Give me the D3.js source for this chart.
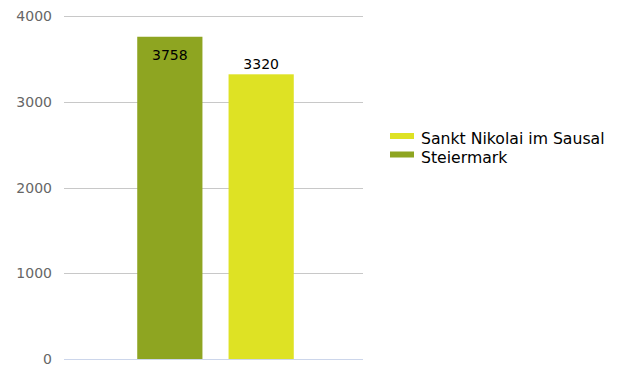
<!DOCTYPE html>
<html>
<head>
<meta charset="utf-8">
<script src="https://cdn.jsdelivr.net/npm/d3@7"></script>
<style>
  body { margin: 0; background: #fff; }
  text { font-family: "DejaVu Sans", sans-serif; }
</style>
</head>
<body>
<div id="chart"></div>
<script>
var series = ["Steiermark", "Sankt Nikolai im Sausal"];
var values = [3758, 3320];
var colors = ["#8ea521", "#dee224"];
var legendOrder = ["Sankt Nikolai im Sausal", "Steiermark"];
var yTicks = [0, 1000, 2000, 3000, 4000];

var width = 620, height = 367;
var plot = {left: 64, right: 363, top: 16, bottom: 359};

var svg = d3.select("#chart")
  .append("svg")
  .attr("width", width)
  .attr("height", height);

var y = d3.scaleLinear()
  .domain([0, 4000])
  .range([plot.bottom, plot.top]);

// bars sit slightly right of the plot centre
var x = d3.scaleBand()
  .domain(series)
  .range([plot.left + 2, plot.right + 2])
  .paddingInner(0.286)
  .paddingOuter(0.78);

// gridlines
svg.append("g")
  .selectAll("line")
  .data(yTicks)
  .enter()
  .append("line")
  .attr("x1", plot.left)
  .attr("x2", plot.right)
  .attr("y1", function(d) { return Math.round(y(d)) + 0.5; })
  .attr("y2", function(d) { return Math.round(y(d)) + 0.5; })
  .attr("stroke", function(d) { return d === 0 ? "#ccd6eb" : "#c8c8c8"; })
  .attr("stroke-width", 1);

// y labels
svg.append("g")
  .selectAll("text")
  .data(yTicks)
  .enter()
  .append("text")
  .attr("x", 52)
  .attr("y", function(d) { return y(d) + 5; })
  .attr("text-anchor", "end")
  .attr("fill", "#666")
  .style("font-size", "14px")
  .text(function(d) { return d; });

// bars
svg.append("g")
  .selectAll("rect")
  .data(series)
  .enter()
  .append("rect")
  .attr("x", function(d) { return x(d); })
  .attr("y", function(d, i) { return y(values[i]); })
  .attr("width", x.bandwidth())
  .attr("height", function(d, i) { return plot.bottom - y(values[i]); })
  .attr("fill", function(d, i) { return colors[i]; });

// value labels: first inside the bar, second above
svg.append("g")
  .selectAll("text")
  .data(series)
  .enter()
  .append("text")
  .attr("x", function(d) { return x(d) + x.bandwidth() / 2; })
  .attr("y", function(d, i) { return i === 0 ? y(values[i]) + 23 : y(values[i]) - 5; })
  .attr("text-anchor", "middle")
  .attr("fill", "#000")
  .style("font-size", "14px")
  .text(function(d, i) { return values[i]; });

// legend
var legend = svg.append("g")
  .selectAll("g")
  .data(legendOrder)
  .enter()
  .append("g")
  .attr("transform", function(d, i) { return "translate(390," + (136 + i * 18.5) + ")"; });

legend.append("rect")
  .attr("x", 0)
  .attr("y", -3)
  .attr("width", 24)
  .attr("height", 6)
  .attr("fill", function(d) { return colors[series.indexOf(d)]; });

legend.append("text")
  .attr("x", 31)
  .attr("y", 8)
  .attr("fill", "#000")
  .style("font-size", "15.7px")
  .text(function(d) { return d; });
</script>
</body>
</html>
